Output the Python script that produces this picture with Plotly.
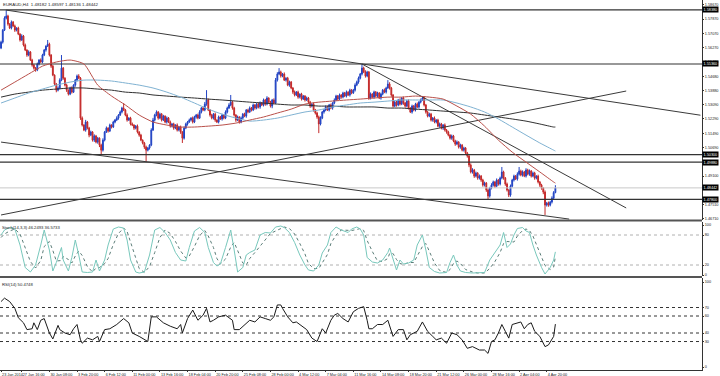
import plotly.graph_objects as go

# ---------------- DATA ----------------
title_text = "EURAUD,H4  1.48182 1.48597 1.48136 1.48442"
stoch_title = "Stoch(14,3,3) 46.2493 36.5733"
rsi_title = "RSI(14) 50.4748"

first_open = 1.5625
close = [
    1.5658, 1.5725, 1.5792, 1.5804, 1.5759, 1.5737, 1.5770, 1.5748, 1.5725, 1.5737,
    1.5703, 1.5670, 1.5692, 1.5642, 1.5614, 1.5586, 1.5603, 1.5558, 1.5530, 1.5513,
    1.5502, 1.5536, 1.5558, 1.5547, 1.5586, 1.5614, 1.5636, 1.5647, 1.5586, 1.5524,
    1.5474, 1.5424, 1.5390, 1.5402, 1.5446, 1.5513, 1.5457, 1.5418, 1.5390, 1.5368,
    1.5402, 1.5379, 1.5418, 1.5446, 1.5469, 1.5457, 1.5234, 1.5195, 1.5167, 1.5212,
    1.5178, 1.5139, 1.5156, 1.5111, 1.5134, 1.5100, 1.5122, 1.5083, 1.5055, 1.5111,
    1.5156, 1.5178, 1.5162, 1.5195, 1.5184, 1.5212, 1.5223, 1.5234, 1.5251, 1.5268,
    1.5290, 1.5279, 1.5251, 1.5223, 1.5234, 1.5201, 1.5195, 1.5178, 1.5189, 1.5156,
    1.5139, 1.5111, 1.5095, 1.5072, 1.5055, 1.5067, 1.5083, 1.5167, 1.5223, 1.5251,
    1.5268, 1.5234, 1.5256, 1.5223, 1.5245, 1.5212, 1.5234, 1.5212, 1.5189, 1.5201,
    1.5178, 1.5195, 1.5167, 1.5184, 1.5156, 1.5122, 1.5178, 1.5201, 1.5212, 1.5223,
    1.5234, 1.5212, 1.5240, 1.5251, 1.5234, 1.5268, 1.5290, 1.5279, 1.5312, 1.5335,
    1.5279, 1.5251, 1.5234, 1.5256, 1.5223, 1.5212, 1.5240, 1.5229, 1.5251, 1.5234,
    1.5268, 1.5290, 1.5307, 1.5323, 1.5290, 1.5251, 1.5223, 1.5240, 1.5212, 1.5234,
    1.5256, 1.5245, 1.5279, 1.5268, 1.5290, 1.5279, 1.5307, 1.5290, 1.5312, 1.5296,
    1.5318, 1.5307, 1.5335, 1.5312, 1.5346, 1.5323, 1.5301, 1.5335, 1.5318, 1.5446,
    1.5480, 1.5491, 1.5469, 1.5480, 1.5446, 1.5457, 1.5418, 1.5435, 1.5402, 1.5379,
    1.5363, 1.5379, 1.5351, 1.5368, 1.5340, 1.5357, 1.5335, 1.5346, 1.5323, 1.5301,
    1.5312, 1.5279, 1.5262, 1.5240, 1.5201, 1.5234, 1.5268, 1.5279, 1.5296, 1.5279,
    1.5307, 1.5290, 1.5318, 1.5335, 1.5357, 1.5340, 1.5363, 1.5351, 1.5374, 1.5357,
    1.5379, 1.5363, 1.5390, 1.5374, 1.5390, 1.5418, 1.5435, 1.5457, 1.5480, 1.5513,
    1.5491, 1.5469, 1.5491, 1.5346, 1.5368, 1.5351, 1.5379, 1.5357, 1.5374, 1.5346,
    1.5368, 1.5390, 1.5379, 1.5402, 1.5424, 1.5402, 1.5363, 1.5301, 1.5323, 1.5307,
    1.5335, 1.5312, 1.5346, 1.5318, 1.5301, 1.5329, 1.5290, 1.5268, 1.5301, 1.5279,
    1.5312, 1.5296, 1.5323, 1.5335, 1.5346, 1.5307, 1.5268, 1.5245, 1.5256, 1.5223,
    1.5234, 1.5212, 1.5223, 1.5189, 1.5201, 1.5178, 1.5195, 1.5167, 1.5156, 1.5139,
    1.5122, 1.5134, 1.5106, 1.5089, 1.5100, 1.5072, 1.5083, 1.5055, 1.5067, 1.5039,
    1.5022, 1.4972, 1.4933, 1.4944, 1.4910, 1.4927, 1.4899, 1.4910, 1.4888, 1.4860,
    1.4871, 1.4832, 1.4799, 1.4843, 1.4860, 1.4877, 1.4854, 1.4888, 1.4866, 1.4899,
    1.4933, 1.4899, 1.4866, 1.4832, 1.4804, 1.4854, 1.4888, 1.4910, 1.4894, 1.4921,
    1.4938, 1.4916, 1.4933, 1.4910, 1.4944, 1.4921, 1.4938, 1.4910, 1.4927, 1.4899,
    1.4910, 1.4877, 1.4860, 1.4843, 1.4821, 1.4748, 1.4760, 1.4748, 1.4765, 1.4787,
    1.48182, 1.48442,
]
# wick lengths in pips (upper / lower)
wick_up = [
    8, 6, 10, 33, 7, 5, 9, 6, 8, 4, 7, 5, 10, 6, 8, 4, 9, 5, 7, 6,
    6, 8, 5, 9, 7, 6, 4, 23, 8, 5, 7, 4, 6, 9, 10, 73, 6, 5, 8, 4,
    7, 9, 5, 6, 8, 10, 6, 9, 5, 12, 6, 7, 8, 5, 9, 6, 7, 4, 8, 10,
    6, 9, 5, 8, 4, 7, 6, 10, 5, 8, 7, 28, 6, 9, 5, 7, 8, 4, 6, 9,
    5, 7, 4, 6, 8, 6, 5, 10, 12, 7, 9, 5, 8, 6, 7, 4, 9, 6, 8, 5,
    7, 4, 9, 6, 8, 5, 10, 7, 6, 8, 5, 9, 7, 6, 8, 10, 6, 9, 12, 55,
    8, 5, 7, 6, 9, 4, 8, 6, 7, 5, 9, 8, 10, 40, 6, 7, 5, 8, 4, 9,
    6, 8, 5, 7, 9, 6, 8, 5, 7, 6, 9, 5, 8, 6, 10, 4, 7, 6, 9, 12,
    10, 22, 8, 6, 9, 5, 7, 8, 6, 5, 9, 6, 8, 4, 7, 6, 5, 8, 6, 7,
    5, 9, 6, 7, 8, 10, 6, 5, 9, 7, 6, 8, 5, 9, 7, 6, 8, 5, 7, 6,
    9, 5, 8, 6, 7, 10, 8, 9, 6, 23, 8, 10, 7, 6, 9, 5, 8, 6, 7, 5,
    8, 6, 9, 7, 22, 10, 6, 5, 8, 7, 6, 9, 5, 8, 6, 7, 9, 5, 8, 6,
    7, 9, 6, 8, 11, 10, 6, 5, 8, 7, 6, 9, 5, 7, 8, 6, 5, 9, 6, 7,
    5, 8, 6, 7, 9, 5, 8, 6, 7, 5, 6, 8, 9, 10, 6, 8, 5, 9, 6, 7,
    8, 6, 9, 7, 10, 8, 6, 9, 5, 8, 28, 7, 6, 8, 5, 9, 7, 8, 6, 10,
    23, 8, 9, 6, 10, 7, 9, 6, 8, 7, 5, 8, 6, 7, 5, 9, 6, 8, 7, 10,
    8, 15,
]
wick_dn = [
    6, 8, 5, 7, 9, 6, 8, 5, 10, 7, 6, 9, 5, 8, 6, 10, 7, 5, 9, 8,
    9, 6, 8, 5, 7, 6, 9, 5, 8, 10, 6, 9, 12, 7, 8, 6, 9, 7, 10, 8,
    6, 8, 5, 9, 7, 6, 10, 8, 6, 9, 7, 12, 6, 8, 10, 7, 9, 11, 25, 8,
    7, 5, 9, 6, 8, 5, 7, 6, 9, 5, 8, 6, 7, 9, 5, 8, 6, 10, 7, 8,
    9, 6, 8, 10, 65, 7, 9, 6, 5, 8, 7, 9, 6, 8, 5, 7, 9, 6, 8, 7,
    9, 6, 8, 7, 10, 27, 8, 6, 9, 5, 7, 8, 6, 9, 7, 5, 8, 6, 7, 9,
    6, 9, 7, 8, 10, 6, 8, 5, 9, 7, 6, 8, 5, 7, 9, 8, 10, 6, 9, 7,
    8, 6, 9, 7, 5, 8, 6, 9, 7, 8, 10, 6, 8, 9, 7, 6, 8, 12, 7, 6,
    8, 6, 9, 7, 5, 8, 6, 9, 7, 10, 8, 6, 9, 7, 8, 5, 9, 6, 8, 10,
    7, 9, 8, 10, 51, 8, 6, 9, 7, 5, 8, 6, 9, 7, 6, 8, 5, 9, 7, 6,
    8, 6, 9, 7, 5, 8, 6, 9, 7, 8, 6, 9, 7, 10, 8, 6, 9, 7, 8, 5,
    9, 7, 6, 8, 5, 9, 10, 8, 6, 9, 7, 8, 6, 10, 9, 7, 8, 6, 9, 7,
    8, 6, 9, 7, 5, 8, 9, 7, 6, 8, 9, 7, 8, 6, 9, 7, 10, 8, 9, 7,
    8, 9, 7, 10, 6, 8, 9, 7, 8, 10, 9, 12, 8, 9, 10, 7, 9, 8, 10, 9,
    8, 10, 17, 9, 7, 8, 10, 6, 9, 8, 7, 9, 10, 8, 11, 9, 7, 8, 6, 9,
    8, 7, 9, 6, 8, 7, 9, 8, 6, 9, 7, 8, 10, 9, 12, 55, 8, 9, 7, 8,
    7, 4,
]

# moving averages, sampled every 8 bars (+ last bar)
ma_bars = list(range(0, 321, 8)) + [321]
ma_red = [1.5390, 1.5435, 1.5480, 1.5524, 1.5547, 1.5558, 1.5536, 1.5418, 1.5357, 1.5307,
          1.5251, 1.5212, 1.5195, 1.5184, 1.5184, 1.5189, 1.5195, 1.5206, 1.5223, 1.5240,
          1.5262, 1.5284, 1.5312, 1.5323, 1.5329, 1.5335, 1.5340, 1.5346, 1.5351, 1.5351,
          1.5357, 1.5351, 1.5340, 1.5301, 1.5256, 1.5189, 1.5111, 1.5044, 1.4988, 1.4933,
          1.4877, 1.4871]
ma_blue = [1.5318, 1.5346, 1.5374, 1.5396, 1.5418, 1.5435, 1.5446, 1.5446, 1.5441, 1.5430,
           1.5418, 1.5402, 1.5379, 1.5351, 1.5318, 1.5284, 1.5256, 1.5234, 1.5217, 1.5223,
           1.5234, 1.5251, 1.5268, 1.5279, 1.5296, 1.5307, 1.5318, 1.5323, 1.5329, 1.5335,
           1.5335, 1.5335, 1.5335, 1.5318, 1.5296, 1.5268, 1.5229, 1.5184, 1.5139, 1.5095,
           1.5055, 1.5050]
ma_black = [1.5351, 1.5368, 1.5379, 1.5390, 1.5396, 1.5402, 1.5402, 1.5396, 1.5390, 1.5379,
            1.5374, 1.5363, 1.5357, 1.5351, 1.5346, 1.5340, 1.5335, 1.5329, 1.5323, 1.5318,
            1.5312, 1.5307, 1.5307, 1.5301, 1.5301, 1.5296, 1.5296, 1.5296, 1.5290, 1.5290,
            1.5284, 1.5279, 1.5273, 1.5268, 1.5262, 1.5251, 1.5240, 1.5229, 1.5217, 1.5201,
            1.5184, 1.5184]

# trend lines: (bar0, price0, bar1, price1)
trend_lines = [
    (3, 1.5837, 405, 1.5250),
    (209, 1.5536, 362, 1.4732),
    (0, 1.4693, 362, 1.5385),
    (0, 1.5100, 329, 1.4670),
]
h_levels = [1.5838, 1.5536, 1.5030, 1.4988, 1.4780]
h_labels = ["1.58380", "1.55360", "1.50300", "1.49880", "1.47800"]
last_price = 1.48442

price_ticks = [1.46710, 1.47510, 1.49100, 1.50690, 1.51490, 1.52290, 1.53090,
               1.53880, 1.54680, 1.55480, 1.56270, 1.57070, 1.57870, 1.58670]

stoch_bars = [0, 2, 5, 8, 11, 14, 17, 20, 23, 25,
              28, 30, 32, 35, 36, 39, 41, 43, 45, 47,
              50, 53, 55, 57, 60, 62, 65, 68, 71, 73,
              75, 78, 80, 83, 86, 89, 92, 95, 98, 101,
              104, 107, 109, 112, 115, 118, 120, 123, 125, 127,
              130, 133, 135, 137, 140, 142, 144, 147, 150, 153,
              156, 159, 162, 164, 167, 170, 173, 176, 178, 181,
              184, 186, 189, 191, 194, 197, 201, 203, 206, 208,
              210, 212, 215, 218, 221, 224, 225, 227, 229, 231,
              233, 236, 239, 241, 244, 246, 248, 251, 254, 258,
              260, 262, 264, 266, 269, 273, 276, 280, 283, 286,
              289, 291, 293, 295, 297, 299, 302, 304, 306, 308,
              310, 313, 315, 318, 320, 321]
stoch_k = [80, 90, 95, 92, 60, 15, 6, 20, 60, 90,
           50, 8, 25, 55, 30, 8, 35, 70, 40, 6,
           5, 6, 30, 8, 30, 60, 92, 96, 94, 70,
           30, 6, 4, 6, 40, 90, 95, 85, 70, 45,
           30, 28, 55, 88, 95, 85, 55, 25, 18, 22,
           55, 90, 50, 6, 15, 40, 45, 50, 80, 85,
           84, 96, 98, 95, 85, 65, 40, 20, 10, 8,
           20, 44, 60, 85, 96, 90, 85, 92, 96, 92,
           80, 35, 26, 24, 30, 45, 54, 30, 10, 30,
           22, 24, 30, 60, 80, 50, 15, 7, 4, 5,
           25, 40, 20, 8, 5, 4, 4, 5, 30, 45,
           60, 85, 55, 62, 80, 93, 95, 88, 85, 60,
           40, 15, 2, 15, 30, 46.25]
stoch_d = [75, 82, 88, 92, 82, 56, 27, 14, 29, 57,
           67, 49, 28, 29, 37, 31, 24, 38, 48, 39,
           17, 6, 14, 15, 23, 33, 61, 83, 94, 87,
           65, 35, 13, 5, 17, 45, 75, 90, 83, 67,
           48, 34, 38, 57, 79, 89, 78, 55, 33, 22,
           32, 56, 65, 49, 24, 20, 33, 45, 58, 72,
           83, 88, 93, 96, 93, 82, 63, 42, 23, 13,
           13, 24, 41, 63, 80, 90, 90, 89, 91, 93,
           89, 69, 47, 28, 27, 33, 43, 43, 31, 23,
           21, 25, 25, 38, 57, 63, 48, 24, 9, 5,
           11, 23, 28, 23, 11, 6, 4, 4, 13, 27,
           45, 63, 67, 67, 66, 78, 89, 92, 89, 78,
           62, 38, 19, 11, 16, 36.57]
stoch_levels = [20, 80]
stoch_ticks = [0, 20, 80, 100]

rsi_bars = [0, 2, 5, 8, 10, 13, 15, 18, 19, 21,
            23, 25, 28, 30, 33, 34, 37, 40, 42, 44,
            46, 47, 50, 53, 56, 57, 60, 63, 67, 71,
            74, 76, 80, 85, 87, 90, 94, 98, 102, 104,
            105, 108, 111, 114, 117, 119, 121, 123, 126, 130,
            134, 135, 138, 141, 144, 147, 150, 153, 156, 158,
            160, 162, 163, 166, 169, 171, 174, 177, 180, 183,
            186, 188, 191, 193, 195, 198, 201, 204, 207, 210,
            212, 213, 215, 218, 221, 224, 227, 230, 233, 235,
            237, 241, 244, 247, 250, 252, 255, 258, 261, 264,
            267, 270, 273, 277, 280, 282, 284, 286, 288, 290,
            292, 294, 296, 299, 301, 303, 305, 307, 309, 312,
            315, 317, 319, 320, 321]
rsi_vals = [77, 81, 77, 69, 58, 52, 44, 45, 52, 44,
            55, 57, 40, 33, 49, 44, 40, 38, 45, 50,
            32, 28, 34, 32, 36, 30, 44, 45, 50, 57,
            52, 40, 36, 30, 59, 59, 52, 48, 45, 50,
            40, 57, 67, 55, 61, 69, 53, 55, 59, 61,
            55, 44, 44, 50, 55, 53, 59, 57, 55, 59,
            73, 73, 69, 59, 52, 53, 48, 44, 34, 30,
            45, 40, 55, 61, 63, 57, 53, 65, 69, 71,
            55, 45, 45, 50, 50, 55, 36, 44, 44, 32,
            38, 42, 53, 42, 36, 32, 34, 28, 40, 38,
            32, 22, 24, 20, 20, 16, 30, 32, 40, 50,
            42, 34, 50, 52, 53, 45, 50, 52, 42, 36,
            24, 26, 32, 36, 50.47]
rsi_levels = [30, 40, 60, 70]
rsi_ticks = [0, 30, 40, 60, 70, 100]

date_bars = [0] + list(range(12, 317, 16))
date_labels = ["23 Jan 2014", "27 Jan 16:00", "30 Jan 08:00", "3 Feb 20:00", "6 Feb 12:00",
               "11 Feb 00:00", "13 Feb 16:00", "18 Feb 04:00", "20 Feb 20:00", "25 Feb 08:00",
               "28 Feb 00:00", "4 Mar 12:00", "7 Mar 04:00", "11 Mar 16:00", "14 Mar 08:00",
               "18 Mar 20:00", "21 Mar 12:00", "26 Mar 00:00", "28 Mar 16:00", "2 Apr 04:00",
               "4 Apr 20:00"]

# ---------------- BUILD ----------------
n = min(len(close), len(wick_up), len(wick_dn))
bars = list(range(n))
opens = [first_open] + close[:n - 1]
highs = [max(o, c) + u * 1e-4 for o, c, u in zip(opens, close[:n], wick_up[:n])]
lows = [min(o, c) - d * 1e-4 for o, c, d in zip(opens, close[:n], wick_dn[:n])]

FONT = "Liberation Sans"
FS = 3.8
BULL = "#2244c4"
BEAR = "#c42a2a"
INK = "#222222"

H = 370.0  # plot-area height in px
def fy(px):
    return 1 - px / H

X0, X1 = -0.6, 405.9

fig = go.Figure()

for lv in h_levels:
    fig.add_trace(go.Scatter(x=[X0, X1], y=[lv, lv], mode="lines",
                             line=dict(color="#333333", width=1.1),
                             xaxis="x", yaxis="y", hoverinfo="skip", showlegend=False))
fig.add_trace(go.Scatter(x=[X0, X1], y=[last_price, last_price], mode="lines",
                         line=dict(color="#c8c8c8", width=1),
                         xaxis="x", yaxis="y", hoverinfo="skip", showlegend=False))
for b0, p0, b1, p1 in trend_lines:
    fig.add_trace(go.Scatter(x=[b0, b1], y=[p0, p1], mode="lines",
                             line=dict(color="#3a3a3a", width=1),
                             xaxis="x", yaxis="y", hoverinfo="skip", showlegend=False))

for vals, col in [(ma_black, "#303030"), (ma_blue, "#7fb2d2"), (ma_red, "#b9504a")]:
    fig.add_trace(go.Scatter(x=ma_bars, y=vals, mode="lines",
                             line=dict(color=col, width=1, shape="spline", smoothing=0.6),
                             xaxis="x", yaxis="y", hoverinfo="skip", showlegend=False))

fig.add_trace(go.Candlestick(
    x=bars, open=opens, high=highs, low=lows, close=close[:n],
    increasing=dict(line=dict(color=BULL, width=1), fillcolor=BULL),
    decreasing=dict(line=dict(color=BEAR, width=1), fillcolor=BEAR),
    whiskerwidth=0, xaxis="x", yaxis="y", hoverinfo="skip", showlegend=False))

ns = min(len(stoch_bars), len(stoch_k), len(stoch_d))
for lv in stoch_levels:
    fig.add_trace(go.Scatter(x=[X0, X1], y=[lv, lv], mode="lines",
                             line=dict(color="#b0b0b0", width=1, dash="dot"),
                             xaxis="x", yaxis="y2", hoverinfo="skip", showlegend=False))
fig.add_trace(go.Scatter(x=stoch_bars[:ns], y=stoch_d[:ns], mode="lines",
                         line=dict(color="#5b7d78", width=1, dash="dot"),
                         xaxis="x", yaxis="y2", hoverinfo="skip", showlegend=False))
fig.add_trace(go.Scatter(x=stoch_bars[:ns], y=stoch_k[:ns], mode="lines",
                         line=dict(color="#78c8bc", width=1),
                         xaxis="x", yaxis="y2", hoverinfo="skip", showlegend=False))

nr = min(len(rsi_bars), len(rsi_vals))
for lv in rsi_levels:
    fig.add_trace(go.Scatter(x=[X0, X1], y=[lv, lv], mode="lines",
                             line=dict(color="#333333", width=1, dash="dot"),
                             xaxis="x", yaxis="y3", hoverinfo="skip", showlegend=False))
fig.add_trace(go.Scatter(x=rsi_bars[:nr], y=rsi_vals[:nr], mode="lines",
                         line=dict(color="#1a1a1a", width=1),
                         xaxis="x", yaxis="y3", hoverinfo="skip", showlegend=False))

tickfont = dict(family=FONT, size=FS, color=INK)
annotations = [
    dict(text=title_text, x=0.002, y=fy(0.5), xref="paper", yref="paper",
         xanchor="left", yanchor="top", showarrow=False, font=dict(family=FONT, size=4.4, color=INK)),
    dict(text=stoch_title, x=0.0, y=fy(222.5), xref="paper", yref="paper",
         xanchor="left", yanchor="top", showarrow=False, font=dict(family=FONT, size=4.2, color=INK)),
    dict(text=rsi_title, x=0.0, y=fy(279.5), xref="paper", yref="paper",
         xanchor="left", yanchor="top", showarrow=False, font=dict(family=FONT, size=4.2, color=INK)),
]
for lv, lab in zip(h_levels + [last_price], h_labels + ["1.48442"]):
    annotations.append(dict(text=lab, x=1.0, y=lv, xref="paper", yref="y",
                            xanchor="left", yanchor="middle", showarrow=False,
                            bgcolor="#000000", borderpad=0.5,
                            font=dict(family=FONT, size=FS, color="#ffffff")))

fig.update_layout(
    width=720, height=376,
    margin=dict(l=0, r=18, t=0, b=6, autoexpand=False),
    paper_bgcolor="white", plot_bgcolor="white",
    showlegend=False,
    xaxis=dict(range=[X0, X1], anchor="y3", showgrid=False, zeroline=False,
               rangeslider=dict(visible=False), automargin=False,
               showline=True, linecolor="#333333", linewidth=1,
               tickvals=date_bars, ticktext=date_labels, ticks="outside", ticklen=1,
               tickcolor="#333333", ticklabelposition="outside right", tickangle=0,
               tickfont=tickfont),
    yaxis=dict(domain=[fy(220), 1], range=[1.46649, 1.58933], side="right", anchor="x",
               showgrid=False, zeroline=False, showline=True, linecolor="#333333",
               tickvals=price_ticks, ticktext=["%.5f" % t for t in price_ticks],
               ticks="outside", ticklen=1, tickcolor="#333333", tickfont=tickfont,
               automargin=False),
    yaxis2=dict(domain=[fy(276), fy(222)], range=[-2, 106], side="right", anchor="x",
                showgrid=False, zeroline=False, showline=True, linecolor="#333333",
                tickvals=stoch_ticks, ticks="outside", ticklen=1, tickcolor="#333333",
                tickfont=tickfont, automargin=False),
    yaxis3=dict(domain=[0, fy(278)], range=[-3.5, 104.7], side="right", anchor="x",
                showgrid=False, zeroline=False, showline=True, linecolor="#333333",
                tickvals=rsi_ticks, ticks="outside", ticklen=1, tickcolor="#333333",
                tickfont=tickfont, automargin=False),
    annotations=annotations,
    shapes=[
        dict(type="line", xref="paper", yref="paper", x0=0, x1=1, y0=fy(220.5), y1=fy(220.5),
             line=dict(color="#555555", width=2)),
        dict(type="line", xref="paper", yref="paper", x0=0, x1=1, y0=fy(277), y1=fy(277),
             line=dict(color="#555555", width=2)),
    ],
)

fig.write_html(
    "out.html",
    config={"displayModeBar": False},
    post_script="document.body.style.margin='0';document.body.style.padding='0';"
                "document.body.style.overflow='hidden';",
)
